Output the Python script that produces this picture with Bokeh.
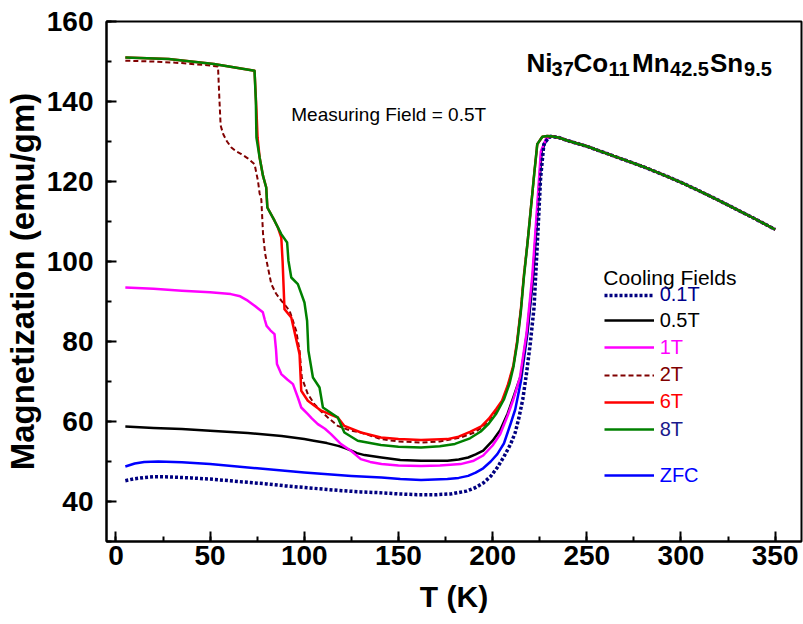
from bokeh.plotting import figure
from bokeh.models import Range1d, SingleIntervalTicker, Label, Legend, LegendItem
from bokeh.embed import file_html
from bokeh.resources import INLINE

# Shared austenite branch above the reverse martensitic transition (all curves coincide)
tail_T = [231, 235, 240, 250, 260, 270, 280, 290, 300, 310, 320, 330, 340, 350]
tail_M = [131.3, 131.0, 130.2, 128.8, 127.1, 125.4, 123.7, 121.8, 119.8, 117.6, 115.3, 112.9, 110.5, 108.0]

# Cooling field 0.1 T
T_01 = [5, 10, 15, 20, 25, 30, 40, 50, 60, 70, 80, 90, 100, 110, 120, 130, 140, 150, 160, 170,
        178, 186, 191, 195, 199, 202.5, 206, 209.5, 212, 214, 216, 218, 220, 222, 223.7, 225.5,
        227.2, 229.5]
M_01 = [45.2, 45.7, 46.0, 46.2, 46.2, 46.1, 45.9, 45.6, 45.2, 44.8, 44.4, 43.9, 43.5, 43.1, 42.7,
        42.4, 42.2, 41.9, 41.7, 41.7, 41.9, 42.6, 43.5, 44.6, 46.3, 48.5, 51.2, 54.3, 57.2, 61.0,
        65.5, 72.0, 79.5, 88.5, 104.0, 121.0, 129.3, 130.8]

# Cooling field 0.5 T
T_05 = [5, 20, 35, 50, 70, 88, 100, 105, 112, 118, 122, 125, 128, 132, 141, 151, 162, 176, 182,
        187, 191, 195, 200, 204, 208, 211, 215, 218.5, 221.3, 223.8, 225.9, 228.7]
M_05 = [58.75, 58.4, 58.1, 57.7, 57.1, 56.4, 55.6, 55.2, 54.6, 53.9, 53.3, 52.7, 52.1, 51.6, 51.0,
        50.4, 50.2, 50.2, 50.5, 51.0, 51.8, 52.7, 55.2, 57.8, 62.0, 66.0, 71.5, 83.0, 96.0, 112.7,
        127.5, 130.8]

# Cooling field 1 T
T_1 = [5, 20, 35, 50, 61, 66, 70, 74, 78, 79, 80, 82, 84.2, 85, 85.5, 87.8, 91, 94, 96.6, 98.4,
       101.9, 104, 107.2, 111, 114.2, 119.5, 124.8, 130, 135, 141, 150, 162, 172, 183, 190, 195,
       200, 204, 208, 211, 214.5, 218, 221, 223.5, 225.6, 228.5]
M_1 = [93.5, 93.2, 92.7, 92.3, 91.85, 91.3, 90.2, 88.8, 87.3, 85.5, 83.9, 82.8, 81.85, 78.0, 74.4,
       71.85, 70.5, 69.35, 66.0, 63.5, 61.85, 60.8, 59.35, 58.2, 56.85, 54.35, 52.7, 50.6, 49.9,
       49.35, 49.0, 48.9, 49.0, 49.35, 50.2, 51.5, 54.0, 56.8, 61.5, 65.5, 71.0, 82.0, 96.0, 112.7,
       127.5, 130.8]

# Cooling field 2 T
T_2 = [5, 20, 35, 50, 54.2, 55.0, 55.6, 57, 59, 61.3, 64, 66.6, 70, 73.6, 75.4, 76.3, 77.2, 78.1,
       79.2, 82.5, 85, 87.8, 90, 92.2, 95.7, 97.5, 98.7, 101.9, 105.4, 109, 112.5, 117.8, 124,
       130.1, 140.7, 150, 162, 172, 183, 190, 194, 198, 202, 205, 208, 211, 213, 215, 216.6, 218.5,
       220.2, 221.9, 223.7, 226.4, 229]
M_2 = [150.2, 150.0, 149.6, 149.0, 148.75, 140.0, 134.0, 131.8, 130.0, 128.5, 127.5, 126.85, 125.8,
       124.35, 120.2, 117.0, 115.5, 107.0, 102.0, 94.35, 92.0, 90.2, 89.0, 87.7, 82.7, 77.7, 71.0,
       66.85, 64.35, 62.5, 61.0, 58.9, 57.8, 57.25, 55.6, 55.0, 54.75, 55.0, 56.0, 57.2, 58.4,
       60.3, 62.8, 64.9, 68.7, 73.8, 79.8, 88.0, 96.5, 104.5, 112.7, 121.0, 129.3, 131.2, 131.4]

# Cooling field 6 T
T_6 = [5, 28, 52, 73.6, 74.6, 75.2, 76.3, 78.1, 79.8, 80.4, 84.2, 86, 87.8, 88.5, 89.5, 93.1, 95.7,
       97.5, 98.4, 101.9, 109, 117.8, 121.3, 130.1, 140.7, 150, 162, 176, 182, 188, 194, 198, 202,
       205, 208, 211, 213, 215, 216.6, 218.5, 220.2, 221.9, 223.7, 226.4, 229]
M_6 = [151.0, 150.6, 149.35, 147.7, 138.0, 131.0, 126.0, 121.4, 118.5, 113.5, 110.2, 108.5, 106.0,
       100.0, 88.1, 86.0, 80.6, 76.85, 67.7, 65.2, 62.7, 61.0, 58.9, 57.25, 56.0, 55.6, 55.35, 55.6,
       56.2, 57.4, 58.8, 60.7, 63.2, 65.2, 69.0, 74.0, 80.0, 88.0, 96.5, 104.5, 112.7, 121.0, 129.3,
       131.2, 131.4]

# Cooling field 8 T
T_8 = [5, 28, 52, 73.6, 74.3, 74.6, 76.3, 78.1, 79.8, 80.4, 84.2, 87.8, 90.9, 91.6, 93.1, 96.6,
       100.1, 101.5, 102.2, 104.6, 108.1, 109.9, 117.8, 121.3, 128.4, 140.7, 150, 162, 172, 180,
       188, 193.7, 198, 202, 206, 209, 211, 213, 215, 216.6, 218.5, 220.2, 221.9, 223.7, 226.4, 229]
M_8 = [151.0, 150.6, 149.35, 147.7, 140.0, 131.0, 126.0, 121.4, 118.5, 113.5, 110.2, 106.85,
       104.75, 100.2, 96.0, 94.35, 89.75, 85.2, 77.7, 71.0, 68.5, 63.5, 61.0, 57.25, 55.2, 54.1,
       53.7, 53.5, 53.8, 54.4, 55.8, 57.5, 59.5, 62.0, 65.5, 69.5, 73.5, 79.35, 87.5, 96.0, 104.5,
       112.7, 121.0, 129.35, 131.2, 131.4]

# Zero-field cooled
T_zfc = [5, 10, 15, 22.5, 35, 50, 75, 100, 125, 141, 151, 162, 176, 182, 187, 191, 195, 199, 202.5,
         206, 209.6, 212, 215, 218.5, 221.5, 223.9, 226, 229]
M_zfc = [48.75, 49.5, 49.9, 50.0, 49.8, 49.35, 48.3, 47.25, 46.4, 46.0, 45.6, 45.4, 45.6, 45.9,
         46.4, 47.2, 48.3, 50.0, 51.85, 54.5, 59.5, 63.0, 70.0, 82.0, 96.0, 112.7, 127.5, 130.8]

labels = ["0.1T", "0.5T", "1T", "2T", "6T", "8T", "ZFC"]
line_colors = ["#000080", "#000000", "#ff00ff", "#800000", "#ff0000", "#008000", "#0000ff"]
label_colors = ["#00008b", "#000000", "#ff00ff", "#800000", "#ff0000", "#1a1a8c", "#0000ff"]
series_T = [T_01, T_05, T_1, T_2, T_6, T_8, T_zfc]
series_M = [M_01, M_05, M_1, M_2, M_6, M_8, M_zfc]

FONT = "Liberation Sans"

p = figure(width=803, height=624, output_backend="svg", toolbar_location=None,
           x_range=Range1d(-5, 364), y_range=Range1d(30, 160),
           min_border_left=105, min_border_right=2, min_border_top=21, min_border_bottom=83)
p.xgrid.visible = False
p.ygrid.visible = False
p.outline_line_color = "black"
p.outline_line_width = 2
p.background_fill_color = "white"
p.border_fill_color = "white"

p.xaxis.ticker = SingleIntervalTicker(interval=50, num_minor_ticks=2)
p.yaxis.ticker = SingleIntervalTicker(interval=20, num_minor_ticks=2)
p.xaxis.axis_label = "T (K)"
p.yaxis.axis_label = "Magnetization (emu/gm)"

for ax in (p.xaxis[0], p.yaxis[0]):
    ax.axis_line_width = 2
    ax.axis_line_color = "black"
    ax.major_tick_line_width = 2
    ax.minor_tick_line_width = 2
    ax.major_tick_line_color = "black"
    ax.minor_tick_line_color = "black"
    ax.major_tick_in = 10
    ax.major_tick_out = 0
    ax.minor_tick_in = 5
    ax.minor_tick_out = 0
    ax.major_label_text_font = FONT
    ax.major_label_text_font_style = "bold"
    ax.major_label_text_font_size = "28px"
    ax.major_label_text_color = "black"
    ax.axis_label_text_font = FONT
    ax.axis_label_text_font_style = "bold"
    ax.axis_label_text_color = "black"

p.xaxis.axis_label_text_font_size = "30px"
p.yaxis.axis_label_text_font_size = "33px"
p.xaxis.major_label_standoff = 4
p.xaxis.axis_label_standoff = 12
p.yaxis.major_label_standoff = 13
p.yaxis.axis_label_standoff = 3

# draw order: ZFC first, then field-cooled curves, high fields on top
draw_order = [6, 1, 2, 0, 3, 4, 5]
renderers = {}
for i in draw_order:
    kw = dict(line_color=line_colors[i], line_width=2.5, line_join="round")
    if labels[i] == "0.1T":
        kw.update(line_width=3.5, line_dash="3 2")
    elif labels[i] == "2T":
        kw.update(line_width=2, line_dash="5 3")
    renderers[i] = p.line(series_T[i] + tail_T, series_M[i] + tail_M, **kw)

# legend: one block per entry so each label keeps its own colour
legend_rows_px = [296, 321.7, 348.7, 376, 403.3, 430.7, 476.7]
frame_bottom, frame_left = 541, 105
for i, lab in enumerate(labels):
    leg = Legend(items=[LegendItem(label=lab, renderers=[renderers[i]])],
                 location=(602.7 - frame_left, frame_bottom - legend_rows_px[i] - 10),
                 orientation="vertical", padding=0, margin=0, spacing=0,
                 glyph_width=50, glyph_height=20, label_height=20, label_standoff=6,
                 label_text_font=FONT, label_text_font_size="20px",
                 label_text_color=label_colors[i],
                 border_line_alpha=0, background_fill_alpha=0,
                 click_policy="none")
    p.add_layout(leg)

p.add_layout(Label(x=258.8, y=96, text="Cooling Fields", text_font=FONT,
                   text_font_size="21px", text_color="black", text_baseline="alphabetic"))

p.add_layout(Label(x=93.1, y=136.85, text="Measuring Field = 0.5T", text_font=FONT,
                   text_font_size="19px", text_color="black", text_baseline="alphabetic"))

# compound formula with subscripts
formula = [("Ni", False, 0), ("37", True, 25), ("Co", False, 47), ("11", True, 82),
           ("Mn", False, 105.5), ("42.5", True, 143.5), ("Sn", False, 183.5), ("9.5", True, 217.5)]
for txt, sub, dx in formula:
    p.add_layout(Label(x=218.0, y=149.7, x_offset=dx, y_offset=-6.6 if sub else 0, text=txt,
                       text_font=FONT, text_font_style="bold",
                       text_font_size="20px" if sub else "26px",
                       text_color="black", text_baseline="alphabetic"))

open("out.html", "w").write(file_html(p, INLINE))
